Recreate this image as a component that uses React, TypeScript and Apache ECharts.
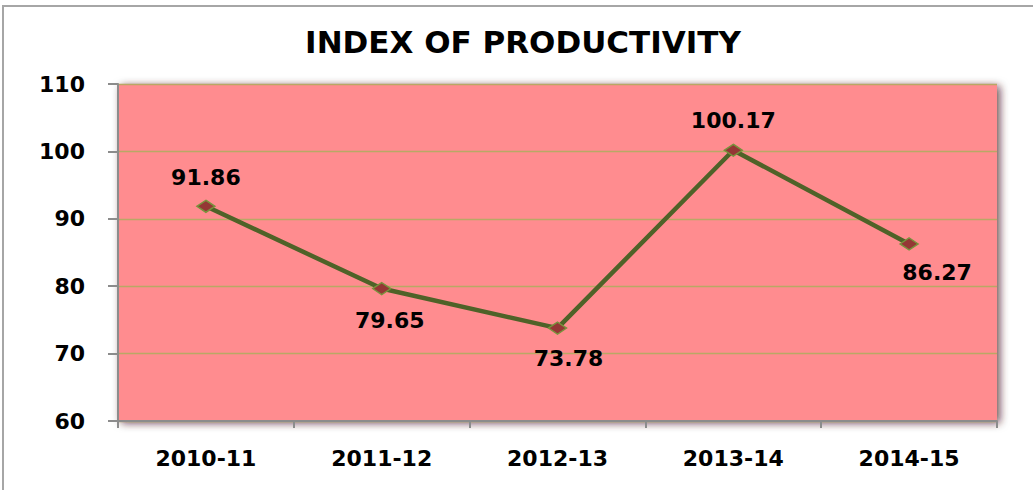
import React, { useEffect, useRef } from "react";
import * as echarts from "echarts";

const categories = ["2010-11", "2011-12", "2012-13", "2013-14", "2014-15"];
const values = [91.86, 79.65, 73.78, 100.17, 86.27];
const labelPositions = ["top", "bottom", "bottom", "top", "bottom"];
const labelOffsets = [[0, 3], [8, 0], [11, -1], [0, 2], [28, -3]];
const titleText = "INDEX OF PRODUCTIVITY";

const FONT = "DejaVu Sans";

export default function App() {
  const ref = useRef<HTMLDivElement>(null);
  useEffect(() => {
    const chart = echarts.init(ref.current!, null, { renderer: "svg" });
    chart.setOption({
      animation: false,
      backgroundColor: "#ffffff",
      title: {
        text: titleText,
        left: 518,
        top: 21,
        textAlign: "center",
        textStyle: { fontFamily: FONT, fontWeight: "bold", fontSize: 31, color: "#000" },
      },
      graphic: [
        {
          type: "rect",
          shape: { x: 3, y: 6, width: 1200, height: 700 },
          style: { fill: "none", stroke: "#a6a6a6", lineWidth: 2 },
          silent: true,
          z: -10,
        },
      ],
      grid: {
        left: 118,
        top: 84,
        right: 36,
        bottom: 69,
        show: true,
        backgroundColor: "#FF8C8F",
        borderWidth: 0,
        shadowColor: "rgba(60,20,30,0.75)",
        shadowBlur: 8,
        shadowOffsetX: 3,
        shadowOffsetY: 2,
      },
      xAxis: {
        type: "category",
        data: categories,
        boundaryGap: true,
        axisLine: { show: true, lineStyle: { color: "#8c8c8c", width: 2 } },
        axisTick: { show: true, length: 7, lineStyle: { color: "#8c8c8c", width: 2 } },
        axisLabel: {
          margin: 26,
          fontFamily: FONT,
          fontWeight: "bold",
          fontSize: 22,
          color: "#000",
        },
        splitLine: { show: false },
      },
      yAxis: {
        type: "value",
        min: 60,
        max: 110,
        interval: 10,
        axisLine: { show: true, lineStyle: { color: "#8c8c8c", width: 2 } },
        axisTick: { show: true, length: 10, lineStyle: { color: "#8c8c8c", width: 2 } },
        axisLabel: {
          margin: 33,
          fontFamily: FONT,
          fontWeight: "bold",
          fontSize: 22,
          color: "#000",
        },
        splitLine: { show: true, lineStyle: { color: "#B9A865", width: 1.3 } },
      },
      series: [
        {
          type: "line",
          data: values.map((v, i) => ({
            value: v,
            label: { position: labelPositions[i], offset: labelOffsets[i] },
          })),
          lineStyle: { color: "#4F6228", width: 4.5 },
          symbol: "diamond",
          symbolSize: [18, 12],
          itemStyle: { color: "#953735", borderColor: "#77933C", borderWidth: 1.5 },
          label: {
            show: true,
            distance: 14,
            fontFamily: FONT,
            fontWeight: "bold",
            fontSize: 22,
            color: "#000",
            formatter: (p: any) => p.value.toFixed(2),
          },
          z: 5,
        },
      ],
    });
    return () => chart.dispose();
  }, []);
  return (
    <div
      ref={ref}
      style={{ position: "fixed", left: 0, top: 0, width: 1033, height: 490 }}
    />
  );
}
